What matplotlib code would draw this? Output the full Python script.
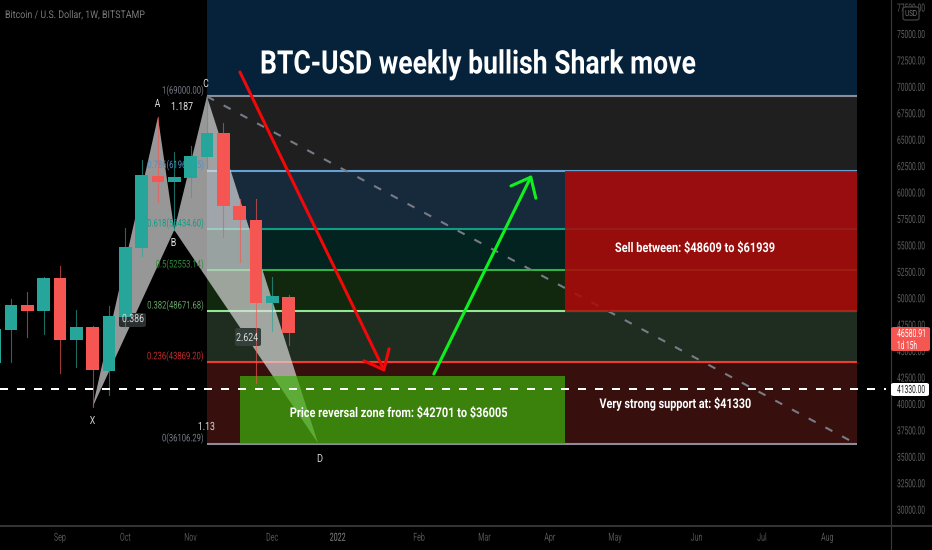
# BTC weekly chart with bullish Shark pattern, redrawn from a tradingview screenshot
import matplotlib
matplotlib.use('Agg')
import matplotlib.pyplot as plt
from matplotlib.lines import Line2D
from matplotlib.patches import FancyBboxPatch, Rectangle
from matplotlib.patheffects import AbstractPathEffect
from matplotlib.transforms import Affine2D

# weekly candles, index 0 is the first full one on the left
weeks = list(range(-1, 18))
opens = [43782, 46904, 49269, 48701, 51823, 45958, 47188, 43025, 48134, 54661,
         61472, 60905, 61283, 63270, 65540, 58634, 57310, 49458, 50026]
closes = [46998, 49269, 48730, 51823, 45958, 47188, 43120, 48228, 54756, 61567,
          60905, 61378, 63364, 65540, 58634, 57310, 49458, 50120, 46580.91]
highs = [47300, 49837, 50499, 51918, 52958, 48796, 47282, 49174, 56553, 62986,
         67054, 63743, 64310, 69000, 66486, 59297, 59297, 51918, 50215]
lows = [42900, 43877, 46242, 46526, 42836, 43404, 39620, 40755, 47093, 53904,
        59013, 56364, 59486, 62229, 55702, 53337, 41890, 46809, 45485]

# fib retracement
fib_ratios = ['1', '0.786', '0.618', '0.5', '0.382', '0.236', '0']
fib_prices = [69000.00, 61960.75, 56434.60, 52553.14, 48671.68, 43869.20, 36106.29]
fib_lines = ['#8b8e98', '#64a0d2', '#0f9d86', '#34b045', '#92e892', '#f23b30', '#8b8e98']
fib_labels = ['#787b86', '#4f8fc4', '#0f9d86', '#2f8f3a', '#66a566', '#c02c2c', '#787b86']
fib_fills = ['#1f1f1f', '#172a3c', '#02231f', '#11280f', '#1f2d20', '#37100e']
fib_start, fib_end = 12, 51.8

# shark pattern points, week / price
pattern_x = [5, 9, 10, 12, 18.8]
pattern_y = [39620, 67054, 56364, 69000, 36215]

support = 41330
sell_zone = [48609, 61939]
buy_zone = [36106, 42570]
zone_weeks = [14.02, 33.92]
red_arrow = [(14.02, 71311), (22.9, 42930)]
green_arrow = [(25.9, 42742), (31.9, 61567)]

price_ticks = list(range(30000, 77501, 2500))
month_pos = [3, 7, 11, 16, 20, 25, 29, 33, 37, 42, 46, 50]
month_names = ['Sep', 'Oct', 'Nov', 'Dec', '2022', 'Feb', 'Mar', 'Apr', 'May', 'Jun', 'Jul', 'Aug']

UP = '#26a69a'
DOWN = '#f55651'
plt.rcParams['font.family'] = ['Roboto', 'DejaVu Sans']


class Tall(AbstractPathEffect):
    # the original font is a condensed one, so set the width by font size and stretch the height
    def __init__(self, factor):
        super().__init__()
        self.factor = factor

    def draw_path(self, renderer, gc, tpath, affine, rgbFace=None):
        renderer.draw_path(gc, tpath, Affine2D().scale(1, self.factor) + affine, rgbFace)


fig = plt.figure(figsize=(9.32, 5.5), dpi=100, facecolor='black')
ax = fig.add_axes([0, 24 / 550, 890.5 / 932, 526 / 550], facecolor='black')
ax.set_xlim(-0.674, 53.87)
ax.set_ylim(28362, 78122)
renderer = fig.canvas.get_renderer()


def fit(t, width, cap):
    size = t.get_fontsize() * width / t.get_window_extent(renderer).width
    t.set_fontsize(size)
    t.set_path_effects([Tall(cap / (0.71 * size * 100 / 72))])


# fib bands
ax.fill_between([fib_start, fib_end], fib_prices[0], 78122, color='#05223a', lw=0, zorder=1)
for i, fill in enumerate(fib_fills):
    ax.fill_between([fib_start, fib_end], fib_prices[i + 1], fib_prices[i], color=fill, lw=0, zorder=1)
for ratio, price, line, col in zip(fib_ratios, fib_prices, fib_lines, fib_labels):
    ax.plot([fib_start, fib_end], [price, price], color=line, lw=1.5, zorder=2, solid_capstyle='butt')
    t = ax.annotate(f'{ratio}({price:.2f})', (fib_start, price), xytext=(-2.5, 2), textcoords='offset points',
                    ha='right', va='baseline', color=col, fontsize=5.5, zorder=4)
    t.set_path_effects([Tall(1.37)])

# trend line
ax.plot([fib_start, fib_end], [fib_prices[0], fib_prices[-1]], color='#787b86', lw=1.5,
        dashes=(3.8, 5.3), zorder=2)

# pattern triangles
ax.fill(pattern_x[:3], pattern_y[:3], color='#e0e0e0', alpha=0.68, lw=0, zorder=3)
ax.fill(pattern_x[2:], pattern_y[2:], color='#e0e0e0', alpha=0.68, lw=0, zorder=3)

# zones
ax.add_patch(Rectangle((zone_weeks[0], buy_zone[0]), zone_weeks[1] - zone_weeks[0], buy_zone[1] - buy_zone[0],
                       facecolor='#3db30c', alpha=0.7, edgecolor='none', zorder=3.5))
ax.add_patch(Rectangle((zone_weeks[1], sell_zone[0]), fib_end - zone_weeks[1], sell_zone[1] - sell_zone[0],
                       facecolor='#ac0a0a', alpha=0.88, edgecolor='none', zorder=3.5))


def px(x, y):
    return x / 932, 1 - y / 550


def tag(parent, x, y, w, h, color, z, edge='none'):
    box = FancyBboxPatch(px(x, y + h), w / 932, h / 550, boxstyle='round,pad=0,rounding_size=0.003',
                         transform=fig.transFigure, facecolor=color, edgecolor=edge, lw=0.8, zorder=z)
    parent.add_artist(box)


# little value boxes sit under the candles
tag(ax, 119, 313, 27, 14, '#2a3030', 4.8)
tag(ax, 235, 328, 26, 18, '#33403a', 4.8)

# candles
for w, o, c, h, l in zip(weeks, opens, closes, highs, lows):
    col = UP if c >= o else DOWN
    ax.plot([w, w], [l, h], color=col, lw=0.8, alpha=0.65, zorder=5)
    ax.bar(w, abs(c - o), bottom=min(o, c), width=0.78, color=col, lw=0, zorder=6)

# arrows and support line
ax.annotate('', xy=red_arrow[1], xytext=red_arrow[0], zorder=7,
            arrowprops=dict(arrowstyle='->,head_length=12,head_width=10', mutation_scale=1,
                            color='#f20808', lw=2.2, shrinkA=0, shrinkB=0))
ax.annotate('', xy=green_arrow[1], xytext=green_arrow[0], zorder=7,
            arrowprops=dict(arrowstyle='->,head_length=12,head_width=10', mutation_scale=1,
                            color='#0ff01f', lw=2.2, shrinkA=0, shrinkB=0))
ax.plot([-0.674, 53.6], [support, support], color='white', lw=1.44, dashes=(4, 4.5), zorder=7)

# axes
for side in ['top', 'left']:
    ax.spines[side].set_visible(False)
ax.spines['right'].set_color('#3a3a3a')
ax.spines['bottom'].set_color('#333333')
ax.spines['bottom'].set_linewidth(1.5)
fig.add_artist(Line2D([890.5 / 932, 1], [24 / 550, 24 / 550], color='#333333', lw=1.5))
fig.add_artist(Line2D([890.5 / 932, 890.5 / 932], [0, 24 / 550], color='#3a3a3a', lw=0.8))
ax.yaxis.tick_right()
ax.set_yticks(price_ticks, [f'{p:.2f}' for p in price_ticks])
ax.set_xticks(month_pos, month_names)
ax.tick_params(axis='y', length=0, pad=4.7, labelsize=4.8, labelcolor='#5f5f5f')
ax.tick_params(axis='x', length=0, pad=7, labelsize=5.1, labelcolor='#555555')
for t in ax.get_yticklabels():
    t.set_va('top')
    t.set_path_effects([Tall(1.68)])
for t in ax.get_xticklabels():
    t.set_path_effects([Tall(1.56)])
ax.get_xticklabels()[4].set_color('#8a8a8a')
ax.grid(False)


def label(x, base, s, width, cap, color='white', ha='center', **kw):
    t = fig.text(*px(x, base), s, fontsize=8, color=color, ha=ha, va='baseline', zorder=10,
                 parse_math=False, **kw)
    fit(t, width, cap)


label(5, 18, 'Bitcoin / U.S. Dollar, 1W, BITSTAMP', 140, 7.5, color='#7a7a7a', ha='left')
label(477.5, 73.5, 'BTC-USD weekly bullish Shark move', 437, 23, weight='bold')
label(695, 252, 'Sell between: $48609 to $61939', 160, 9.5, weight='bold')
label(399, 417, 'Price reversal zone from: $42701 to $36005', 218, 9.5, weight='bold')
label(675, 408, 'Very strong support at: $41330', 152, 9.5, weight='bold')

# pattern labels
label(157.5, 107, 'A', 5.5, 8, color='#e0e0e0')
label(173.5, 246, 'B', 5.5, 8, color='#e0e0e0')
label(206, 87, 'C', 5.5, 8, color='#e0e0e0')
label(320, 462, 'D', 6, 8, color='#d0d0d0')
label(92.5, 424, 'X', 5.5, 8, color='#d0d0d0')
label(182, 110, '1.187', 22, 8, color='#e8e8e8')
label(133, 322, '0.386', 22, 8, color='#d8d8d8')
label(247, 341, '2.624', 22, 8, color='#d8d8d8')
label(206.5, 430, '1.13', 17, 8, color='#d8d8d8')

# price axis tags
tag(fig, 891, 327, 39, 24, DOWN, 9)
label(897, 337, '46580.91', 29, 8, ha='left')
label(897, 349, '1d 15h', 20, 8, ha='left')
tag(fig, 891, 383, 38, 13, 'white', 9)
label(911, 393, '41330.00', 28, 8, color='#222222')
tag(fig, 903, 7, 16, 13, 'black', 9, edge='#4a4a4a')
label(911, 16, 'USD', 12, 6, color='#777777')

fig.savefig('out.png', dpi=100, facecolor='black')
